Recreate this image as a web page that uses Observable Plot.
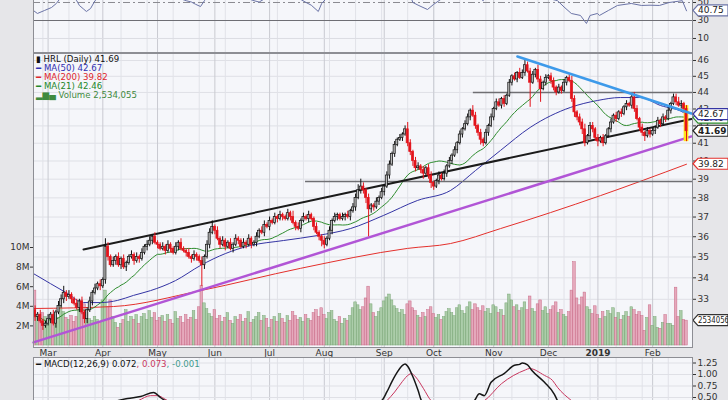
<!DOCTYPE html>
<html><head><meta charset="utf-8">
<script src="https://cdn.jsdelivr.net/npm/d3@7"></script>
<script src="https://cdn.jsdelivr.net/npm/@observablehq/plot@0.6"></script>
<style>
html,body{margin:0;padding:0;background:#e6e6e9;}
#chart{position:relative;width:728px;height:400px;overflow:hidden;background:#e6e6e9;font-family:"DejaVu Sans",Verdana,sans-serif;color:#333;}
#chart svg{position:absolute;left:0;}
</style></head><body><div id="chart"></div><script>
// ---------- DATA ----------
// trading-day index 0 = 22 Feb 2018 ... 250 = 21 Feb 2019
const monthLabels = ["Mar","Apr","May","Jun","Jul","Aug","Sep","Oct","Nov","Dec","2019","Feb"];
const monthIdx = [5,26,47,69,90,111,134,153,176,197,216,237];
const gridIdx = [3,13,23,33,43,53,63,73,83,93,103,113,123,133,143,153,163,173,183,193,203,213,223,233,243];
const priceTicks = [33,34,35,36,37,38,39,40,41,42,43,44,45,46];
const volTicks = [2,4,6,8,10];
const rsiTicks = [10,30,50,70,90];
const macdTicks = [0.5,0.75,1.0,1.25];
const firstOpen = 32.5;
const closes = [
32.2,32.3,32.0,31.8,31.9,32.1,32.3,31.9,32.4,32.7,
33.0,33.3,33.1,33.2,33.0,32.8,32.6,32.9,32.4,32.1,
32.5,32.9,33.3,33.5,33.7,33.6,33.9,35.5,35.0,34.6,
34.8,35.0,34.6,34.9,34.5,34.7,35.0,35.1,34.8,35.0,
34.9,35.2,35.5,35.6,35.8,36.0,35.7,35.6,35.4,35.5,
35.3,35.6,35.4,35.2,35.5,35.7,35.4,35.3,35.2,35.0,
34.9,35.1,35.0,34.8,34.6,35.0,35.6,36.2,36.5,36.3,
35.9,35.6,35.8,35.5,35.7,35.4,35.6,35.9,35.8,35.5,
35.7,35.6,35.9,35.6,35.7,36.0,36.3,36.2,36.6,36.5,
36.8,36.7,37.0,36.9,37.1,37.0,36.9,37.2,37.0,36.7,
36.5,36.4,36.8,37.0,36.9,37.1,36.9,36.5,36.2,36.0,
35.8,35.6,35.9,36.3,36.8,37.0,37.1,36.9,37.0,37.1,
37.0,37.3,37.5,38.0,38.4,38.6,38.4,38.0,37.4,37.6,
37.5,37.8,38.0,38.3,38.6,39.2,39.8,40.4,40.9,41.2,
41.3,41.5,41.8,41.0,40.5,40.0,39.6,39.7,39.5,39.3,
39.6,39.2,38.8,38.6,38.9,39.2,39.0,39.3,39.7,40.0,
40.3,40.6,41.0,41.5,41.8,42.1,42.5,42.9,42.6,42.0,
41.6,41.2,41.0,41.6,42.0,42.5,43.0,43.4,43.2,43.6,
43.3,43.8,44.6,45.0,44.8,45.2,44.9,45.2,45.7,45.3,
44.6,45.1,45.4,44.8,44.2,44.6,44.9,45.0,44.7,44.3,
44.0,44.3,44.1,44.6,44.9,44.7,43.6,42.8,42.5,42.2,
41.8,41.0,41.4,42.0,41.8,41.3,41.1,41.3,41.0,41.4,
41.8,42.2,42.6,42.4,42.8,42.7,43.1,43.3,43.2,43.7,
43.0,42.4,41.9,41.6,41.4,41.7,41.5,41.7,41.9,42.3,
42.1,42.5,42.4,42.9,43.3,43.7,43.4,43.2,43.3,43.0,
41.69];
const wickUp = [
2,1,2,1,1,2,1,2,1,2, 2,3,1,2,1,1,2,1,2,1, 1,2,1,2,1,2,1,4,2,1, 2,1,2,1,2,1,1,2,1,2,
1,2,1,2,2,1,2,1,1,2, 1,2,1,1,2,1,2,1,1,2, 1,2,1,1,2,1,2,2,3,1, 2,1,2,1,1,2,1,2,1,1,
2,1,2,1,1,2,1,2,2,1, 2,1,2,1,2,1,1,2,1,3, 1,2,1,2,1,2,1,1,2,1, 1,2,1,2,1,2,1,1,2,1,
2,1,2,2,3,4,2,1,2,1, 1,2,1,2,1,2,2,1,2,1, 2,1,2,4,2,1,2,2,1,2, 1,2,2,1,1,2,1,2,1,2,
1,2,1,2,1,2,2,1,3,2, 1,2,1,2,1,2,1,2,2,1, 2,1,2,1,2,1,3,2,3,2, 2,2,1,3,2,1,2,1,2,2,
1,2,1,2,1,2,3,2,1,2, 2,3,1,2,2,1,2,1,2,1, 1,2,1,2,1,2,1,2,1,2, 3,2,1,2,1,2,1,2,1,2,
1,2,1,2,1,2,2,3,2,1,2];
const wickDn = [
2,2,1,2,1,1,2,1,2,1, 1,2,2,1,2,1,1,2,1,2, 2,1,2,1,1,2,1,2,2,1, 1,2,1,2,1,2,1,1,2,1,
2,1,1,2,1,2,1,2,1,1, 2,1,2,1,1,2,1,1,2,1, 2,1,2,1,10,2,1,2,1,2, 1,2,1,2,1,1,2,1,2,1,
1,2,1,2,1,2,1,1,2,1, 2,1,1,2,1,2,1,1,2,1, 2,1,2,1,1,2,1,2,1,2, 3,2,1,1,2,1,2,1,1,2,
1,2,1,2,1,2,2,3,14,2, 2,1,2,1,2,1,2,1,2,1, 1,2,1,2,2,3,2,1,2,3, 2,2,3,2,1,2,1,1,2,1,
2,1,2,1,2,1,1,2,1,2, 2,3,2,1,2,1,2,1,1,2, 2,1,1,2,1,2,1,1,2,1, 15,1,2,2,8,1,2,1,2,2,
2,1,2,1,2,1,2,3,2,2, 3,2,1,2,2,2,3,1,2,1, 1,2,1,2,1,2,1,2,1,2, 2,1,2,2,3,1,2,1,2,1,
2,1,2,1,2,1,2,1,2,2,6];
const volumes = [
5.6,3.1,2.7,3.3,2.9,2.4,2.6,2.9,3.2,2.8, 3.9,3.4,2.8,2.6,3.0,2.4,2.9,3.6,4.6,4.2,
3.3,2.7,2.5,2.9,2.6,2.3,4.6,5.6,3.9,4.6, 2.9,2.3,1.8,2.2,2.6,3.6,2.4,2.9,2.6,3.1,
2.2,2.9,3.2,2.6,3.5,2.8,3.3,2.5,2.8,3.0, 2.4,3.1,2.6,2.2,3.4,2.7,2.9,2.3,3.1,2.6,
2.8,3.5,2.6,3.9,6.1,4.3,3.7,3.2,2.9,3.6, 2.7,3.0,2.4,2.8,3.3,2.5,2.2,2.9,2.6,3.1,
2.4,2.7,3.4,2.3,2.6,2.9,3.3,2.5,3.0,2.7, 1.8,2.6,2.9,2.4,3.2,2.7,2.3,3.0,2.5,3.4,
3.0,2.6,2.8,2.4,3.1,2.7,2.5,3.3,3.6,2.9, 3.8,3.1,2.7,3.3,3.5,2.6,2.4,2.9,2.2,2.7,
2.5,3.0,3.8,4.4,4.1,3.6,3.9,4.8,6.0,4.2, 3.3,2.9,3.4,3.8,4.5,4.9,5.2,4.6,4.0,3.7,
3.3,3.6,3.1,4.2,4.5,3.8,3.5,3.0,2.8,3.3, 2.9,3.6,3.9,3.2,2.8,3.1,2.6,2.9,3.4,3.7,
3.3,3.0,3.8,4.1,3.5,3.2,3.9,4.4,3.6,4.2, 3.8,3.5,4.0,3.4,3.7,3.2,4.1,3.9,3.3,3.6,
3.0,4.3,5.2,4.6,3.9,4.1,3.5,3.8,4.4,3.6, 5.0,3.7,3.4,4.2,4.6,3.5,3.9,3.2,3.6,4.0,
4.4,3.3,3.6,3.1,2.9,3.4,5.6,8.5,4.8,4.1, 4.9,5.4,3.9,3.6,3.2,4.0,3.1,2.7,3.4,2.9,
3.5,3.2,3.8,2.8,3.3,2.6,3.0,3.4,2.9,3.9, 3.6,3.1,3.4,3.0,1.5,2.8,4.1,2.0,2.9,1.8,
1.7,2.3,3.1,2.2,2.2,2.0,5.9,2.9,3.5,2.6, 2.534];
const ma50Idx = [-0.6,12.4,18.6,25.1,31.7,37.8,44.3,53.9,63.5,73.1,82.6,95.3,108.4,121,133.7,146.7,159.4,169,178.6,190,205.4,215.8,224.6,232.3,240,248.8,250];
const ma50Val = [34.2,33.27,32.85,32.85,32.95,33.18,33.4,33.87,34.59,35.17,35.56,35.81,36.06,36.41,37.08,37.86,38.39,39.47,40.59,41.91,43.09,43.51,43.69,43.69,43.21,42.79,42.67];
const ma200Idx = [-0.6,30.1,63.5,101.8,142.9,159.4,178.6,217,250];
const ma200Val = [32.58,32.67,33.4,34.45,35.42,35.66,36.41,38.12,39.82];
const trendBlackIdx = [18.6,251.9], trendBlackVal = [35.37,42.41];
const trendPurpleIdx = [-0.6,251.9], trendPurpleVal = [31.08,41.39];
const trendBlueIdx = [185.1,251.9], trendBlueVal = [46.26,42.73];
const levelHi = 44.0, levelHiFrom = 168.2;
const levelLo = 38.87, levelLoFrom = 103.8;
const rsiIdx = [-0.6,0.9,3.6,6.3,8.2,10,13,16,17,18.5,19.7,21.3,23,26,28,32,36,40,45,50,55,58,60,61.6,63.5,65,68,72,76,80,84,86,88,92,97,101,104,106,108.7,110,113,118,124,128,131,136,141,145,147,150.6,153,155,160,166,170,172,175,183,190,195,200.5,203,205.8,209.3,211.6,213,215.8,216.6,220,223.5,228.8,232.7,236,239.6,243.4,248.4,250];
const rsiVal = [41,37.8,41.1,44.4,49,56,60,52,46.7,43,40,43.3,52,60,72,62,58,60,66,57,55,52,50.5,48,45.5,52,64,56,54,56,52,50.5,54,62,58,55,50,47,40,49,58,62,72,54,60,75,80,50,47,42.2,48,52,62,70,56,52,65,74,60,56,52,45,37.8,35.6,26.7,35.6,37.8,35.6,41.1,46.7,48.9,46.7,47,46.7,50,52,40.75];
const macdIdx = [0,25,32,35.5,40.5,45.5,48.1,50,60,80,100,120,133,135,137,139,141,142,143,145,147,148.3,155,165,168.6,170.5,172.4,175,180,184,186,187,189,190.5,195.5,199.3,200.5,205,215,230,250];
const macdVal = [-0.3,0.25,0.435,0.478,0.52,0.61,0.5,0.43,0.25,0.1,0.2,0.15,0.43,0.62,0.85,1.05,1.2,1.23,1.18,0.95,0.65,0.43,0.1,0.2,0.43,0.58,0.54,0.83,1.02,1.2,1.22,1.25,1.21,1.1,0.83,0.57,0.43,0.2,-0.1,0.0,0.072];
const signalIdx = [0,30,39.7,44.3,47,50.8,60,100,130,135,138,141,143.5,144.5,146,149,152,160,172.4,179,188.2,189.7,195.5,198.6,200.5,205.8,215,250];
const signalVal = [-0.2,0.2,0.435,0.54,0.54,0.435,0.3,0.2,0.2,0.43,0.62,0.85,1.0,1.02,0.95,0.7,0.43,0.2,0.43,0.8,1.1,1.13,0.98,0.87,0.72,0.435,0.1,0.073];

// ---------- derived tables ----------
const bars = closes.map((c, i) => {
  const o = i ? closes[i - 1] : firstOpen;
  const up = c >= o;
  return {i, open: o, close: c, high: Math.max(o, c) + wickUp[i] / 10, low: Math.min(o, c) - wickDn[i] / 10,
          vol: volumes[i], col: up ? "#111" : "#e3141c", body: up ? "#b9b9b9" : "#e3141c",
          vfill: up ? "#9fc59b" : "#e29bb0", vstroke: up ? "#7aa676" : "#c96c88"};
});
const pts = (ix, vals) => ix.map((x, k) => ({x, y: vals[k]}));
const last = bars[bars.length - 1];

const W = 728, XL = 33, XR = 692;
const xScale = {domain: [-0.6, 252.3], range: [XL, XR]};
const PANEL = "#f5f6fa", BORDER = "#8d8e94";
const FONT = "DejaVu Sans, Verdana, sans-serif";
const gridMarks = () => [
  Plot.ruleX(gridIdx, {stroke: "#e1e2e8", strokeWidth: 1}),
  Plot.ruleX(monthIdx, {stroke: "#c9cad1", strokeWidth: 1})
];
const chart = document.getElementById("chart");
function place(svg, top) { svg.style.top = top + "px"; chart.appendChild(svg); return svg; }
const baseStyle = {background: "transparent", overflow: "visible", fontFamily: FONT, color: "#333"};

// ---------- RSI panel (mostly above the picture) ----------
const rsi = Plot.plot({
  width: W, height: 103, marginLeft: XL, marginRight: W - XR, marginTop: 0, marginBottom: 1,
  style: baseStyle, x: {...xScale, axis: null},
  y: {domain: [-6.7, 107.8], range: [103, 0]},
  marks: [
    Plot.frame({fill: PANEL}),
    ...gridMarks(),
    Plot.ruleY([10, 90], {stroke: "#dcdde3"}),
    Plot.ruleY([30, 70], {stroke: "#6e6e74", strokeWidth: 1.2}),
    Plot.ruleY([50], {stroke: "#8a8a90", strokeDasharray: "7,3,2,3"}),
    Plot.line(pts(rsiIdx, rsiVal), {x: "x", y: "y", stroke: "#6a73a6", strokeWidth: 1, clip: true}),
    Plot.axisY({anchor: "right", ticks: rsiTicks, tickSize: 3, tickPadding: 2, fontSize: 9, label: null}),
    Plot.frame({stroke: BORDER})
  ]
});
place(rsi, -50);

// ---------- main panel: background layer ----------
const priceY = {type: "log", domain: [30.86, 46.45], range: [294, 0]};
const bg = Plot.plot({
  width: W, height: 305, marginLeft: XL, marginRight: W - XR, marginTop: 0, marginBottom: 11,
  style: baseStyle, x: {...xScale, axis: null}, y: {...priceY, axis: null},
  marks: [
    Plot.frame({fill: PANEL}),
    Plot.ruleY(priceTicks, {stroke: "#dfe0e6"}),
    ...gridMarks()
  ]
});
place(bg, 53);

// ---------- volume layer ----------
const vol = Plot.plot({
  width: W, height: 305, marginLeft: XL, marginRight: W - XR, marginTop: 0, marginBottom: 11,
  style: baseStyle, x: {...xScale}, y: {domain: [0, 10], range: [292, 194]},
  color: {type: "identity"},
  marks: [
    Plot.rect(bars, {x1: d => d.i - 0.5, x2: d => d.i + 0.5, y1: 0, y2: "vol", fill: "vfill", stroke: "vstroke", strokeWidth: 0.5, fillOpacity: 0.85}),
    Plot.axisY({anchor: "left", ticks: volTicks, tickFormat: d => d + "M", tickSize: 3, tickPadding: 1, fontSize: 9, label: null}),
    Plot.axisX({ticks: monthIdx, tickFormat: d => monthLabels[monthIdx.indexOf(d)], tickSize: 0, tickPadding: 2, fontSize: 9, label: null, anchor: "bottom"})
  ]
});
place(vol, 53);
d3.select(vol).selectAll("text").filter(function(){ return this.textContent === "2019"; }).attr("font-weight", "bold");

// ---------- price layer ----------
const price = Plot.plot({
  width: W, height: 305, marginLeft: XL, marginRight: W - XR, marginTop: 0, marginBottom: 11,
  style: baseStyle, x: {...xScale, axis: null}, y: {...priceY},
  color: {type: "identity"},
  marks: [
    Plot.line(pts(ma200Idx, ma200Val), {x: "x", y: "y", stroke: "#e4302c", strokeWidth: 1, curve: "monotone-x"}),
    Plot.line(pts(ma50Idx, ma50Val), {x: "x", y: "y", stroke: "#3434a4", strokeWidth: 1, curve: "monotone-x"}),
    Plot.lineY(bars, Plot.windowY({k: 21, anchor: "end", strict: false}, {x: "i", y: "close", stroke: "#2d8c2d", strokeWidth: 1})),
    Plot.ruleY([levelHi], {x1: levelHiFrom, x2: 252.3, stroke: "#6f6f73", strokeWidth: 1.5}),
    Plot.ruleY([levelLo], {x1: levelLoFrom, x2: 252.3, stroke: "#6f6f73", strokeWidth: 1.5}),
    Plot.line(pts(trendPurpleIdx, trendPurpleVal), {x: "x", y: "y", stroke: "#b155d6", strokeWidth: 2.5}),
    Plot.line(pts(trendBlackIdx, trendBlackVal), {x: "x", y: "y", stroke: "#1b1b1b", strokeWidth: 2}),
    Plot.rect([last], {x1: d => d.i - 0.9, x2: d => d.i + 0.9, y1: "low", y2: "high", fill: "#ffe41a"}),
    Plot.ruleX(bars, {x: "i", y1: "low", y2: "high", stroke: "col", strokeWidth: 1}),
    Plot.rect(bars, {x1: d => d.i - 0.4, x2: d => d.i + 0.4, y1: "open", y2: "close", fill: "body", stroke: "col", strokeWidth: 0.7}),
    Plot.line(pts(trendBlueIdx, trendBlueVal), {x: "x", y: "y", stroke: "#3d9aea", strokeWidth: 2.5}),
    Plot.axisY({anchor: "right", ticks: priceTicks, tickFormat: d => String(d), tickSize: 3, tickPadding: 2, fontSize: 9, label: null}),
    Plot.frame({stroke: BORDER})
  ]
});
place(price, 53);

// legend text in the main panel
const leg = d3.select(price).append("g").attr("font-size", 8.6).attr("font-family", FONT).attr("text-anchor", "start");
[["▮ HRL (Daily) 41.69", "#111", 6], ["━ MA(50) 42.67", "#2f2fb0", 15], ["━ MA(200) 39.82", "#e0262c", 24],
 ["━ MA(21) 42.46", "#23872a", 33], ["▂▆▄ Volume 2,534,055", "#3f8a3f", 42]].forEach(([t, c, y]) => {
  leg.append("text").attr("x", XL + 3).attr("y", y).attr("dy", "0.35em").attr("fill", c).attr("text-anchor", "start").text(t);
});

// value boxes on the right axis
function box(svg, yPix, label, color, bold, fs) {
  const g = d3.select(svg).append("g").attr("text-anchor", "start");
  const x0 = XR + 1, h = 11, w = 35;
  g.append("path").attr("d", `M${x0},${yPix} L${x0 + 5},${yPix - h / 2} L${x0 + w},${yPix - h / 2} L${x0 + w},${yPix + h / 2} L${x0 + 5},${yPix + h / 2} Z`)
    .attr("fill", "#fff").attr("stroke", color).attr("stroke-width", 1.2);
  const t = g.append("text").attr("x", x0 + 5).attr("y", yPix).attr("dy", "0.35em").attr("font-size", fs || 9)
    .attr("text-anchor", "start").attr("font-weight", bold ? "bold" : null).attr("fill", "#222").attr("font-family", FONT).text(label);
  if (label.length > 5) t.attr("textLength", w - 4).attr("lengthAdjust", "spacingAndGlyphs");
}
const yP = price.scale("y");
box(price, yP.apply(42.46), "42.46", "#2d8c2d");
box(price, yP.apply(42.67), "42.67", "#3434a4");
box(price, yP.apply(41.69), "41.69", "#222", true);
box(price, yP.apply(39.82), "39.82", "#e4302c");
box(vol, vol.scale("y").apply(2.534), "2534056", "#333", false, 8);
box(rsi, rsi.scale("y").apply(40.75), "40.75", "#6a73a6");

// ---------- MACD panel ----------
const macd = Plot.plot({
  width: W, height: 60, marginLeft: XL, marginRight: W - XR, marginTop: 0, marginBottom: 0,
  style: baseStyle, x: {...xScale, axis: null}, y: {domain: [0, 1.3696], range: [63, 0]},
  marks: [
    Plot.frame({fill: PANEL}),
    ...gridMarks(),
    Plot.ruleY(macdTicks, {stroke: "#dfe0e6"}),
    Plot.line(pts(signalIdx, signalVal), {x: "x", y: "y", stroke: "#c8365e", strokeWidth: 1, curve: "monotone-x", clip: true}),
    Plot.line(pts(macdIdx, macdVal), {x: "x", y: "y", stroke: "#161616", strokeWidth: 1.5, curve: "monotone-x", clip: true}),
    Plot.axisY({anchor: "right", ticks: macdTicks, tickFormat: d3.format(".2f"), tickSize: 3, tickPadding: 2, fontSize: 9, label: null}),
    Plot.frame({stroke: BORDER})
  ]
});
place(macd, 357);
const ml = d3.select(macd).append("text").attr("x", XL + 3).attr("y", 7).attr("dy", "0.35em").attr("font-size", 8.6)
  .attr("font-family", FONT).attr("text-anchor", "start");
ml.append("tspan").attr("fill", "#111").text("━ MACD(12,26,9) 0.072");
ml.append("tspan").attr("fill", "#c8365e").text(", 0.073");
ml.append("tspan").attr("fill", "#3e9a8c").text(", -0.001");
</script></body></html>
